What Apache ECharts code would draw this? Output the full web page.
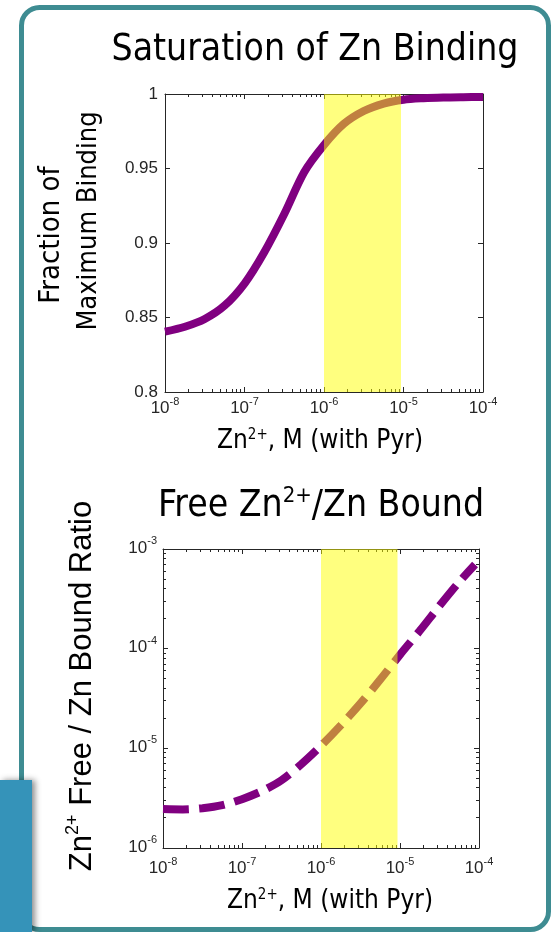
<!DOCTYPE html>
<html>
<head>
<meta charset="utf-8">
<script src="https://cdn.jsdelivr.net/npm/echarts@6/dist/echarts.min.js"></script>
<style>
  html, body { margin: 0; padding: 0; background: #fff; }
  #chart { width: 552px; height: 932px; }
</style>
</head>
<body>
<div id="chart"></div>
<script>
// ---- data -------------------------------------------------------------
// log10 of total Zn2+ concentration (M) for the saturation curve
const logConc = [-8, -7.75, -7.5, -7.25, -7, -6.75, -6.5, -6.25, -6,
                 -5.75, -5.5, -5.25, -5, -4.75, -4.5, -4.25, -4];
// fraction of maximum binding at each concentration
const bindingFraction = [0.8405, 0.8438, 0.8490, 0.8580, 0.8728, 0.8940, 0.9195, 0.9475, 0.9658,
                         0.9800, 0.9886, 0.9936, 0.9962, 0.9972, 0.9977, 0.9979, 0.9980];
// log10 of Zn2+ concentration (M) for the free / bound curve
const ratioLogConc = [-8, -7.75, -7.5, -7.25, -7, -6.75, -6.5, -6.25, -6,
                      -5.75, -5.5, -5.25, -5, -4.75, -4.5, -4.25, -4.05];
// free Zn2+ / bound Zn ratio
const freeBoundRatio = [2.46e-6, 2.44e-6, 2.51e-6, 2.69e-6, 3.09e-6, 3.72e-6, 4.79e-6, 6.92e-6, 1.06e-5,
                        1.70e-5, 2.82e-5, 4.90e-5, 8.70e-5, 1.51e-4, 2.69e-4, 4.68e-4, 7.00e-4];
// highlighted concentration window (M)
const pyrWindow = [1e-6, 9.3e-6];
// axis ranges
const concRange = [1e-8, 1e-4];
const fractionRange = [0.8, 1];
const fractionStep = 0.05;
const ratioRange = [1e-6, 1e-3];

// ---- styling ----------------------------------------------------------
const headFont = "'DejaVu Sans Condensed', 'DejaVu Sans', sans-serif";
const tickFont = "'Liberation Sans', Arial, sans-serif";
const ink = '#262626';
const purple = '#800080';
const majorLen = 5;
const minorLen = 3;

// minor tick positions (2..9 within each decade)
function minorsBetween(lo, hi) {
  const out = [];
  for (let e = Math.round(Math.log10(lo)); e < Math.round(Math.log10(hi)); e++) {
    for (let m = 2; m <= 9; m++) out.push(m * Math.pow(10, e));
  }
  return out;
}
const concMinors = minorsBetween(concRange[0], concRange[1]);
const ratioMinors = minorsBetween(ratioRange[0], ratioRange[1]);

function powLabel(v) {
  const e = Math.round(Math.log10(v));
  return '{b|10}{s|' + e + '}';
}
const powRich = {
  b: { fontFamily: tickFont, fontSize: 17, color: ink, lineHeight: 21, verticalAlign: 'bottom' },
  s: { fontFamily: tickFont, fontSize: 11, color: ink, lineHeight: 11, verticalAlign: 'top' }
};

function concAxis(grid, pos, showLabel, margin) {
  return {
    type: 'log', logBase: 10, gridIndex: grid, position: pos,
    min: concRange[0], max: concRange[1],
    axisLine: { show: true, onZero: false, lineStyle: { color: ink, width: 1 } },
    axisTick: { show: true, inside: true, length: majorLen, lineStyle: { color: ink } },
    splitLine: { show: false },
    axisLabel: { show: showLabel, formatter: powLabel, rich: powRich, margin: margin }
  };
}
function fractionAxis(pos, showLabel) {
  return {
    type: 'value', gridIndex: 0, position: pos,
    min: fractionRange[0], max: fractionRange[1], interval: fractionStep,
    axisLine: { show: true, onZero: false, lineStyle: { color: ink, width: 1 } },
    axisTick: { show: true, inside: true, length: majorLen, lineStyle: { color: ink } },
    splitLine: { show: false },
    axisLabel: { show: showLabel, fontFamily: tickFont, fontSize: 17, color: ink, margin: 7 }
  };
}
function ratioAxis(pos, showLabel) {
  return {
    type: 'log', logBase: 10, gridIndex: 1, position: pos,
    min: ratioRange[0], max: ratioRange[1],
    axisLine: { show: true, onZero: false, lineStyle: { color: ink, width: 1 } },
    axisTick: { show: true, inside: true, length: majorLen, lineStyle: { color: ink } },
    splitLine: { show: false },
    axisLabel: { show: showLabel, formatter: powLabel, rich: powRich, margin: 6, padding: [0, 0, 6, 0] }
  };
}

function crisp(v) { return Math.round(v - 0.5) + 0.5; }

// minor ticks along the bottom and top edges of a grid
function xMinorSeries(xi, yi, yRef) {
  return {
    type: 'custom', xAxisIndex: xi, yAxisIndex: yi, z: 2, silent: true,
    encode: { x: 0, y: 1 },
    data: concMinors.map(v => [v, yRef]),
    renderItem: function (params, api) {
      const cs = params.coordSys;
      const x = crisp(api.coord([api.value(0), yRef])[0]);
      const yb = cs.y + cs.height, yt = cs.y;
      return { type: 'group', children: [
        { type: 'line', shape: { x1: x, y1: yb, x2: x, y2: yb - minorLen }, style: { stroke: ink, lineWidth: 1 } },
        { type: 'line', shape: { x1: x, y1: yt, x2: x, y2: yt + minorLen }, style: { stroke: ink, lineWidth: 1 } }
      ] };
    }
  };
}
// minor ticks along the left and right edges of the ratio grid
function yMinorSeries() {
  const xRef = concRange[0];
  return {
    type: 'custom', xAxisIndex: 2, yAxisIndex: 2, z: 2, silent: true,
    encode: { x: 0, y: 1 },
    data: ratioMinors.map(v => [xRef, v]),
    renderItem: function (params, api) {
      const cs = params.coordSys;
      const y = crisp(api.coord([xRef, api.value(1)])[1]);
      const xl = cs.x, xr = cs.x + cs.width;
      return { type: 'group', children: [
        { type: 'line', shape: { x1: xl, y1: y, x2: xl + minorLen, y2: y }, style: { stroke: ink, lineWidth: 1 } },
        { type: 'line', shape: { x1: xr, y1: y, x2: xr - minorLen, y2: y }, style: { stroke: ink, lineWidth: 1 } }
      ] };
    }
  };
}
// translucent yellow window laid over the curve
function windowSeries(xi, yi) {
  return {
    type: 'custom', xAxisIndex: xi, yAxisIndex: yi, z: 5, silent: true,
    encode: { x: [0, 1] },
    data: [[pyrWindow[0], pyrWindow[1]]],
    renderItem: function (params, api) {
      const cs = params.coordSys;
      const yRef = yi === 0 ? 0.9 : 1e-5;
      const x1 = api.coord([api.value(0), yRef])[0];
      const x2 = api.coord([api.value(1), yRef])[0];
      return { type: 'rect', shape: { x: x1, y: cs.y, width: x2 - x1, height: cs.height },
               style: { fill: 'rgba(255,255,0,0.5)' } };
    }
  };
}

const supTitle = (base, sup) => ({
  a: { fontFamily: headFont, fontSize: base, lineHeight: Math.round(base * 1.05), verticalAlign: 'bottom', fill: '#000', color: '#000' },
  s: { fontFamily: headFont, fontSize: sup, lineHeight: sup, verticalAlign: 'top', fill: '#000', color: '#000' }
});

const option = {
  animation: false,
  backgroundColor: '#fff',
  grid: [
    { left: 165, top: 94, width: 318, height: 298 },
    { left: 163, top: 549, width: 316, height: 299 }
  ],
  xAxis: [
    concAxis(0, 'bottom', true, 4),
    concAxis(0, 'top', false, 4),
    concAxis(1, 'bottom', true, 8),
    concAxis(1, 'top', false, 8)
  ],
  yAxis: [
    fractionAxis('left', true),
    fractionAxis('right', false),
    ratioAxis('left', true),
    ratioAxis('right', false)
  ],
  series: [
    {
      type: 'line', xAxisIndex: 0, yAxisIndex: 0, z: 3, clip: false,
      showSymbol: false, smooth: 0.3,
      lineStyle: { color: purple, width: 8, cap: 'butt' },
      data: logConc.map((l, i) => [Math.pow(10, l), bindingFraction[i]])
    },
    {
      type: 'line', xAxisIndex: 2, yAxisIndex: 2, z: 3, clip: false,
      showSymbol: false, smooth: 0.3,
      lineStyle: { color: purple, width: 8, type: [26, 10], cap: 'butt' },
      data: ratioLogConc.map((l, i) => [Math.pow(10, l), freeBoundRatio[i]])
    },
    windowSeries(0, 0),
    windowSeries(2, 2),
    xMinorSeries(0, 0, 0.9),
    xMinorSeries(2, 2, 1e-5),
    yMinorSeries()
  ],
  graphic: [
    { type: 'rect', z: 0, silent: true,
      shape: { x: 21.5, y: 7.5, width: 527, height: 922, r: 18 },
      style: { fill: 'none', stroke: '#3e8c92', lineWidth: 5 } },
    { type: 'rect', z: 10, silent: true,
      shape: { x: 0, y: 780, width: 32, height: 152 },
      style: { fill: '#3593b9', shadowBlur: 6, shadowOffsetX: 3, shadowColor: 'rgba(0,0,0,0.45)' } },
    { type: 'text', x: 315, y: 50, silent: true,
      style: { text: 'Saturation of Zn Binding', font: "37px 'DejaVu Sans Condensed', 'DejaVu Sans', sans-serif",
               fill: '#000', align: 'center', verticalAlign: 'middle' } },
    { type: 'text', x: 321, y: 505, silent: true,
      style: { text: '{a|Free Zn}{s|2+}{a|/Zn Bound}', rich: supTitle(37, 22),
               fill: '#000', align: 'center', verticalAlign: 'middle' } },
    { type: 'text', x: 320, y: 441, silent: true,
      style: { text: '{a|Zn}{s|2+}{a|, M (with Pyr)}', rich: supTitle(26, 15),
               fill: '#000', align: 'center', verticalAlign: 'middle' } },
    { type: 'text', x: 330, y: 901, silent: true,
      style: { text: '{a|Zn}{s|2+}{a|, M (with Pyr)}', rich: supTitle(26, 15),
               fill: '#000', align: 'center', verticalAlign: 'middle' } },
    { type: 'text', x: 51, y: 235, rotation: Math.PI / 2, silent: true,
      style: { text: 'Fraction of', font: "29px 'DejaVu Sans Condensed', 'DejaVu Sans', sans-serif",
               fill: '#000', align: 'center', verticalAlign: 'middle' } },
    { type: 'text', x: 89, y: 221, rotation: Math.PI / 2, silent: true,
      style: { text: 'Maximum Binding', font: "27px 'DejaVu Sans Condensed', 'DejaVu Sans', sans-serif",
               fill: '#000', align: 'center', verticalAlign: 'middle' } },
    { type: 'text', x: 81, y: 686, rotation: Math.PI / 2, silent: true,
      style: { text: '{a|Zn}{s|2+}{a| Free / Zn Bound Ratio}',
               rich: {
                 a: { fontFamily: tickFont, fontSize: 31, lineHeight: 33, verticalAlign: 'bottom', fill: '#000', color: '#000' },
                 s: { fontFamily: tickFont, fontSize: 18, lineHeight: 18, verticalAlign: 'top', fill: '#000', color: '#000' }
               },
               fill: '#000', align: 'center', verticalAlign: 'middle' } }
  ]
};

const chart = echarts.init(document.getElementById('chart'), null, { renderer: 'canvas' });
chart.setOption(option);
</script>
</body>
</html>
